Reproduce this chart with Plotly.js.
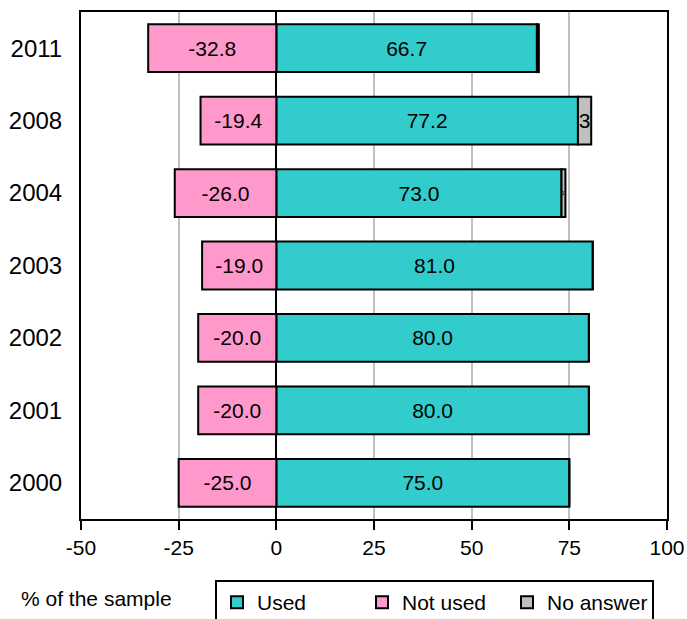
<!DOCTYPE html>
<html><head><meta charset="utf-8">
<script src="https://cdn.plot.ly/plotly-3.0.1.min.js"></script>
<style>html,body{margin:0;padding:0;background:#fff}</style>
</head><body><div id="chart" style="width:687px;height:619px"></div>
<script>
const years = ['2000','2001','2002','2003','2004','2008','2011'];
const used = [75.0, 80.0, 80.0, 81.0, 73.0, 77.2, 66.7];
const notUsed = [-25.0, -20.0, -20.0, -19.0, -26.0, -19.4, -32.8];
const noAnswer = [0, 0, 0, 0, 1.0, 3.4, 0.5];
const noAnswerLabels = ['', '', '', '', '1', '3', '1'];
const xTicks = [-50, -25, 0, 25, 50, 75, 100];

const font = {family: 'Liberation Sans, Arial, sans-serif', size: 21, color: '#000'};
const line = {color: '#000', width: 2};

const traces = [
  {type: 'bar', orientation: 'h', name: 'Used', y: years, x: used,
   text: used.map(v => v.toFixed(1)), textposition: 'inside', insidetextanchor: 'middle',
   textfont: font, marker: {color: '#33CCCC', line: line}, hoverinfo: 'x+y'},
  {type: 'bar', orientation: 'h', name: 'Not used', y: years, x: notUsed,
   text: notUsed.map(v => v.toFixed(1)), textposition: 'inside', insidetextanchor: 'middle',
   textfont: font, marker: {color: '#FF99CC', line: line}, hoverinfo: 'x+y'},
  {type: 'bar', orientation: 'h', name: 'No answer', y: years, x: noAnswer,
   text: noAnswerLabels, textposition: 'inside', insidetextanchor: 'middle',
   constraintext: 'none',
   textfont: {family: font.family, color: '#000', size: [21, 21, 21, 21, 6, 21, 6]},
   marker: {color: '#C0C0C0', line: line}, hoverinfo: 'x+y'}
];

const layout = {
  width: 687, height: 619,
  margin: {l: 81, r: 20, t: 12, b: 100},
  paper_bgcolor: '#fff', plot_bgcolor: '#fff',
  font: font,
  barmode: 'relative', bargap: 0.34,
  showlegend: true,
  legend: {orientation: 'h', xref: 'container', yref: 'container',
           x: 215 / 687, xanchor: 'left', y: 1 - 580 / 619, yanchor: 'top',
           bordercolor: '#000', borderwidth: 2, font: font, traceorder: 'normal',
           entrywidth: 100, entrywidthmode: 'pixels'},
  xaxis: {range: [-50, 100], tickvals: xTicks, ticktext: xTicks.map(String),
          ticks: 'outside', ticklen: 9, tickwidth: 2, tickcolor: '#000',
          showline: true, linecolor: '#000', linewidth: 2, mirror: true,
          showgrid: true, gridcolor: '#C0C0C0', gridwidth: 2,
          zeroline: true, zerolinecolor: '#000', zerolinewidth: 2,
          tickfont: font, fixedrange: true, automargin: false},
  yaxis: {type: 'category', categoryorder: 'array', categoryarray: years,
          ticks: '', showline: true, linecolor: '#000', linewidth: 2, mirror: true,
          showgrid: false, tickfont: {family: font.family, size: 24, color: '#000'},
          ticklabelstandoff: 12, fixedrange: true, automargin: false},
  annotations: [{text: '% of the sample', xref: 'paper', yref: 'paper',
                 x: (96 - 81) / 586, y: (519 - 598) / 507, xanchor: 'center', yanchor: 'middle',
                 showarrow: false, font: font}]
};

Plotly.newPlot('chart', traces, layout, {displayModeBar: false, staticPlot: true});
</script></body></html>
